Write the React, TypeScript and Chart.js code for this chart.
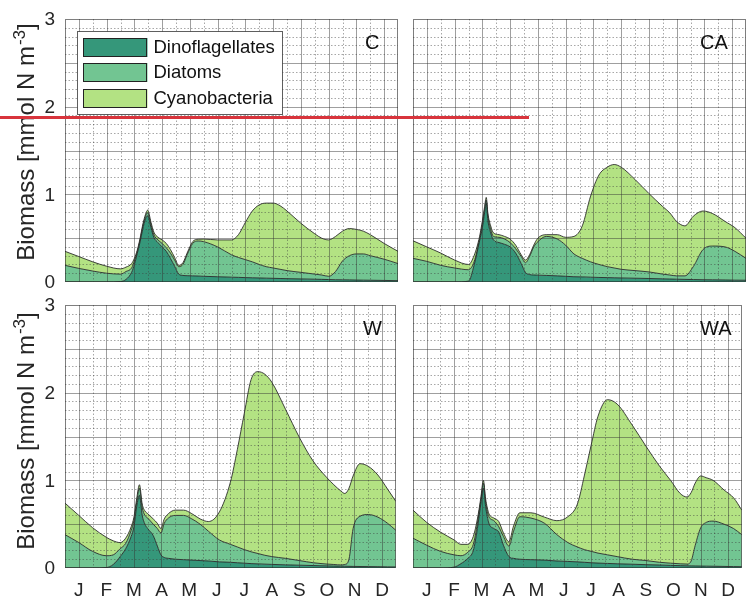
import React, { useEffect, useRef } from 'react';
import { Chart, registerables } from 'chart.js';
Chart.register(...registerables);

const FONT = '"Liberation Sans", Arial, sans-serif';
Chart.defaults.font.family = FONT;

const MONTHS = ['J', 'F', 'M', 'A', 'M', 'J', 'J', 'A', 'S', 'O', 'N', 'D'];
const SERIES = ['Dinoflagellates', 'Diatoms', 'Cyanobacteria'];
const COLORS = ['#35977a', '#72c592', '#b3e283'];
const Y_TICKS = [0, 1, 2, 3];

// Panel C
const C_X = [0, 0.5, 1, 1.5, 2, 2.2, 2.4, 2.5, 2.6, 2.7, 2.8, 2.9, 2.98, 3.1, 3.2, 3.35, 3.5, 3.65, 3.8, 3.95, 4.1, 4.25, 4.4, 4.6, 4.8, 5, 5.5, 6, 6.25, 6.5, 6.75, 7, 7.25, 7.5, 7.75, 8, 8.5, 9, 9.25, 9.5, 9.75, 10, 10.25, 10.5, 10.75, 11, 11.5, 12];
const C_DINO = [0, 0, 0, 0, 0.005, 0.03, 0.11, 0.2, 0.32, 0.45, 0.6, 0.72, 0.755, 0.62, 0.51, 0.45, 0.4, 0.35, 0.27, 0.18, 0.09, 0.075, 0.072, 0.07, 0.068, 0.065, 0.06, 0.055, 0.053, 0.05, 0.048, 0.046, 0.044, 0.042, 0.04, 0.038, 0.035, 0.032, 0.03, 0.028, 0.026, 0.025, 0.024, 0.022, 0.021, 0.02, 0.018, 0.015];
const C_DIAT = [0.19, 0.155, 0.125, 0.1, 0.085, 0.09, 0.05, 0.04, 0.02, 0.02, 0.03, 0.03, 0.035, 0.03, 0.03, 0.03, 0.04, 0.04, 0.06, 0.07, 0.085, 0.125, 0.238, 0.37, 0.4, 0.395, 0.34, 0.255, 0.227, 0.205, 0.182, 0.154, 0.131, 0.118, 0.105, 0.092, 0.075, 0.058, 0.05, 0.037, 0.094, 0.215, 0.276, 0.298, 0.299, 0.28, 0.242, 0.195];
const C_CYAN = [0.16, 0.135, 0.105, 0.08, 0.06, 0.05, 0.05, 0.03, 0.02, 0.02, 0.02, 0.02, 0.03, 0.03, 0.03, 0.03, 0.04, 0.05, 0.04, 0.03, 0.015, 0.02, 0.02, 0.02, 0.02, 0.03, 0.08, 0.17, 0.26, 0.425, 0.58, 0.68, 0.725, 0.74, 0.725, 0.68, 0.56, 0.46, 0.42, 0.415, 0.4, 0.34, 0.31, 0.28, 0.26, 0.24, 0.18, 0.14];

// Panel CA
const CA_X = [0, 0.5, 1, 1.5, 2, 2.2, 2.4, 2.5, 2.58, 2.64, 2.7, 2.8, 2.9, 3.1, 3.3, 3.5, 3.7, 3.9, 4.05, 4.2, 4.35, 4.5, 4.8, 5.2, 5.5, 5.8, 6.1, 6.4, 6.7, 7, 7.25, 7.5, 8, 8.5, 9, 9.25, 9.5, 9.8, 10.1, 10.45, 10.8, 11.25, 11.6, 12];
const CA_DINO = [0, 0, 0, 0, 0.01, 0.19, 0.47, 0.62, 0.79, 0.9, 0.7, 0.56, 0.48, 0.45, 0.43, 0.4, 0.33, 0.21, 0.11, 0.085, 0.08, 0.078, 0.075, 0.07, 0.065, 0.06, 0.058, 0.055, 0.052, 0.05, 0.048, 0.046, 0.043, 0.04, 0.036, 0.034, 0.032, 0.03, 0.028, 0.026, 0.025, 0.023, 0.021, 0.02];
const CA_DIAT = [0.27, 0.235, 0.19, 0.16, 0.13, 0.04, 0.02, 0.04, 0.04, 0.035, 0.05, 0.04, 0.04, 0.06, 0.06, 0.05, 0.05, 0.08, 0.11, 0.205, 0.32, 0.382, 0.445, 0.42, 0.355, 0.26, 0.212, 0.175, 0.148, 0.125, 0.112, 0.099, 0.087, 0.075, 0.054, 0.046, 0.038, 0.04, 0.147, 0.344, 0.385, 0.377, 0.329, 0.25];
const CA_CYAN = [0.2, 0.165, 0.14, 0.09, 0.06, 0.07, 0.03, 0.04, 0.03, 0.03, 0.03, 0.04, 0.04, 0.03, 0.03, 0.04, 0.04, 0.02, 0.03, 0.02, 0.02, 0.04, 0.02, 0.05, 0.09, 0.2, 0.37, 0.75, 1.02, 1.135, 1.18, 1.165, 1.04, 0.895, 0.77, 0.71, 0.62, 0.57, 0.575, 0.44, 0.37, 0.29, 0.27, 0.23];

// Panel W
const W_X = [0, 0.5, 1, 1.5, 1.75, 2, 2.2, 2.4, 2.5, 2.6, 2.7, 2.8, 2.9, 3.0, 3.2, 3.35, 3.48, 3.6, 3.75, 4.0, 4.3, 4.6, 4.9, 5.2, 5.6, 6, 6.25, 6.5, 6.75, 7, 7.25, 7.5, 8, 8.5, 9, 9.5, 9.75, 10, 10.15, 10.3, 10.45, 10.7, 11, 11.35, 11.7, 12];
const W_DINO = [0, 0, 0, 0.005, 0.04, 0.13, 0.22, 0.36, 0.47, 0.7, 0.83, 0.6, 0.5, 0.45, 0.37, 0.25, 0.15, 0.12, 0.11, 0.1, 0.095, 0.09, 0.085, 0.08, 0.07, 0.065, 0.06, 0.055, 0.05, 0.047, 0.044, 0.041, 0.036, 0.032, 0.028, 0.024, 0.022, 0.02, 0.02, 0.019, 0.018, 0.017, 0.016, 0.015, 0.013, 0.012];
const W_DIAT = [0.38, 0.29, 0.19, 0.135, 0.11, 0.09, 0.06, 0.07, 0.07, 0.05, 0.08, 0.09, 0.1, 0.12, 0.13, 0.2, 0.25, 0.39, 0.46, 0.5, 0.505, 0.47, 0.415, 0.34, 0.25, 0.205, 0.18, 0.155, 0.135, 0.118, 0.101, 0.089, 0.074, 0.053, 0.032, 0.021, 0.018, 0.015, 0.02, 0.081, 0.432, 0.573, 0.594, 0.565, 0.497, 0.418];
const W_CYAN = [0.36, 0.31, 0.27, 0.21, 0.16, 0.07, 0.06, 0.04, 0.04, 0.04, 0.04, 0.04, 0.05, 0.05, 0.06, 0.06, 0.05, 0.05, 0.05, 0.06, 0.06, 0.06, 0.06, 0.11, 0.32, 0.71, 1.11, 1.55, 1.965, 2.075, 2.065, 1.99, 1.7, 1.405, 1.16, 0.985, 0.91, 0.845, 0.81, 0.81, 0.6, 0.6, 0.55, 0.48, 0.39, 0.33];

// Panel WA
const WA_X = [0, 0.5, 1, 1.5, 1.75, 2, 2.2, 2.35, 2.47, 2.57, 2.65, 2.77, 2.95, 3.13, 3.3, 3.5, 3.67, 3.9, 4.3, 4.8, 5.25, 5.65, 6, 6.25, 6.5, 6.75, 7.1, 7.45, 8, 8.5, 9, 9.4, 9.75, 10, 10.15, 10.3, 10.5, 10.7, 10.95, 11.35, 11.7, 12];
const WA_DINO = [0, 0, 0, 0.01, 0.05, 0.11, 0.2, 0.45, 0.72, 0.91, 0.7, 0.51, 0.45, 0.41, 0.26, 0.13, 0.11, 0.1, 0.095, 0.09, 0.08, 0.075, 0.07, 0.065, 0.06, 0.056, 0.052, 0.048, 0.043, 0.038, 0.034, 0.03, 0.027, 0.025, 0.024, 0.023, 0.022, 0.021, 0.02, 0.018, 0.016, 0.015];
const WA_DIAT = [0.34, 0.26, 0.19, 0.14, 0.09, 0.07, 0.07, 0.06, 0.04, 0.055, 0.05, 0.075, 0.09, 0.06, 0.1, 0.12, 0.31, 0.485, 0.475, 0.42, 0.3, 0.215, 0.17, 0.145, 0.13, 0.114, 0.098, 0.082, 0.057, 0.047, 0.031, 0.025, 0.021, 0.02, 0.056, 0.237, 0.438, 0.499, 0.515, 0.482, 0.434, 0.365];
const WA_CYAN = [0.32, 0.26, 0.22, 0.17, 0.13, 0.09, 0.09, 0.05, 0.03, 0.035, 0.04, 0.035, 0.03, 0.06, 0.04, 0.05, 0.06, 0.045, 0.06, 0.07, 0.16, 0.295, 0.49, 0.84, 1.21, 1.56, 1.77, 1.74, 1.53, 1.305, 1.095, 0.945, 0.802, 0.765, 0.78, 0.71, 0.59, 0.51, 0.465, 0.39, 0.35, 0.28];

const TEXT = '#262626';

const gridPlugin = {
  id: 'matlabGrid',
  afterDatasetsDraw(chart: any) {
    const { ctx, chartArea: a, scales } = chart;
    const x = scales.x;
    const y = scales.y;
    ctx.save();
    ctx.lineWidth = 1;
    ctx.strokeStyle = 'rgba(60,60,60,0.45)';
    ctx.setLineDash([1.5, 2]);
    for (let k = 1; k < 30; k++) {
      if (k % 5 === 0) continue;
      const py = Math.round(y.getPixelForValue(k / 10)) + 0.5;
      ctx.beginPath();
      ctx.moveTo(a.left, py);
      ctx.lineTo(a.right, py);
      ctx.stroke();
    }
    for (let m = 1; m < 12; m++) {
      const px = Math.round(x.getPixelForValue(m)) + 0.5;
      ctx.beginPath();
      ctx.moveTo(px, a.top);
      ctx.lineTo(px, a.bottom);
      ctx.stroke();
    }
    ctx.setLineDash([]);
    ctx.strokeStyle = 'rgba(50,50,50,0.47)';
    for (let k = 1; k < 6; k++) {
      const py = Math.round(y.getPixelForValue(k / 2)) + 0.5;
      ctx.beginPath();
      ctx.moveTo(a.left, py);
      ctx.lineTo(a.right, py);
      ctx.stroke();
    }
    for (let m = 0; m < 12; m++) {
      const px = Math.round(x.getPixelForValue(m + 0.5)) + 0.5;
      ctx.beginPath();
      ctx.moveTo(px, a.top);
      ctx.lineTo(px, a.bottom);
      ctx.stroke();
    }
    ctx.strokeStyle = 'rgba(40,40,40,0.6)';
    ctx.strokeRect(Math.round(a.left) + 0.5, Math.round(a.top) + 0.5, Math.round(a.right - a.left) - 1, Math.round(a.bottom - a.top) - 1);
    ctx.restore();
  },
};

const yTickPlugin = {
  id: 'yTickLabels',
  afterDraw(chart: any) {
    const { ctx, chartArea: a, scales } = chart;
    const y = scales.y;
    ctx.save();
    ctx.font = `19px ${FONT}`;
    ctx.fillStyle = TEXT;
    ctx.textAlign = 'right';
    ctx.textBaseline = 'middle';
    Y_TICKS.forEach((v) => {
      ctx.fillText(String(v), a.left - 10, y.getPixelForValue(v) + 1);
    });
    ctx.restore();
  },
};

const makeLabelPlugin = (label: string, dx: number) => ({
  id: 'panelLabel',
  afterDraw(chart: any) {
    const { ctx, chartArea: a } = chart;
    ctx.save();
    ctx.font = `20px ${FONT}`;
    ctx.fillStyle = '#111';
    ctx.textAlign = 'left';
    ctx.textBaseline = 'middle';
    ctx.fillText(label, a.left + dx, a.top + 24);
    ctx.restore();
  },
});

const legendPlugin = {
  id: 'boxLegend',
  afterDraw(chart: any) {
    const { ctx, chartArea: a } = chart;
    const bx = Math.round(a.left) + 12.5;
    const by = Math.round(a.top) + 12.5;
    ctx.save();
    ctx.fillStyle = '#fff';
    ctx.fillRect(bx, by, 205, 83);
    ctx.strokeStyle = 'rgba(40,40,40,0.75)';
    ctx.lineWidth = 1;
    ctx.strokeRect(bx, by, 205, 83);
    ctx.font = `18.5px ${FONT}`;
    ctx.textBaseline = 'middle';
    ctx.textAlign = 'left';
    SERIES.forEach((name, i) => {
      const py = Math.round(by + 6 + i * 25.8);
      ctx.fillStyle = COLORS[i];
      ctx.fillRect(bx + 6, py, 64, 19);
      ctx.strokeStyle = '#222';
      ctx.strokeRect(bx + 6, py + 0.5, 63, 18);
      ctx.fillStyle = '#111';
      ctx.fillText(name, bx + 76, py + 10);
    });
    ctx.restore();
  },
};

type PanelProps = {
  xs: number[];
  values: number[][];
  label: string;
  labelDx: number;
  left: number;
  top: number;
  width: number;
  height: number;
  pad: { left: number; right: number; top: number; bottom: number };
  showY: boolean;
  showX: boolean;
  legend?: boolean;
};

function Panel(p: PanelProps) {
  const ref = useRef<HTMLCanvasElement>(null);
  useEffect(() => {
    const canvas = ref.current;
    if (!canvas) return;
    const plugins: any[] = [gridPlugin, makeLabelPlugin(p.label, p.labelDx)];
    if (p.showY) plugins.push(yTickPlugin);
    if (p.legend) plugins.push(legendPlugin);
    const chart = new Chart(canvas, {
      type: 'line',
      data: {
        datasets: SERIES.map((name, i) => ({
          label: name,
          data: p.xs.map((x, j) => ({ x, y: p.values[i][j] })),
          backgroundColor: COLORS[i],
          borderColor: 'rgba(35,35,35,0.85)',
          borderWidth: 1,
          pointRadius: 0,
          fill: i === 0 ? 'origin' : '-1',
          cubicInterpolationMode: 'monotone',
        })),
      } as any,
      options: {
        animation: false,
        responsive: false,
        maintainAspectRatio: false,
        events: [],
        layout: { padding: p.pad },
        plugins: { legend: { display: false }, tooltip: { enabled: false } },
        scales: {
          x: {
            type: 'linear',
            min: 0,
            max: 12,
            display: p.showX,
            grid: { display: false, drawTicks: false },
            border: { display: false },
            afterBuildTicks: (s: any) => {
              s.ticks = MONTHS.map((_, i) => ({ value: i + 0.5 }));
            },
            afterFit: (s: any) => {
              if (p.showX) s.height = 33;
            },
            ticks: {
              autoSkip: false,
              maxRotation: 0,
              minRotation: 0,
              padding: 11,
              color: TEXT,
              font: { size: 19 },
              callback: (v: any) => MONTHS[Math.floor(Number(v))],
            },
          },
          y: {
            type: 'linear',
            stacked: true,
            min: 0,
            max: 3,
            display: false,
          },
        },
      } as any,
      plugins,
    });
    return () => chart.destroy();
  }, []);
  return (
    <canvas
      ref={ref}
      width={p.width}
      height={p.height}
      style={{ position: 'absolute', left: p.left, top: p.top, width: p.width, height: p.height }}
    />
  );
}

function YLabel({ cx, cy }: { cx: number; cy: number }) {
  return (
    <div
      style={{
        position: 'absolute',
        left: cx,
        top: cy,
        transform: 'translate(-50%, -50%) rotate(-90deg)',
        whiteSpace: 'nowrap',
        fontFamily: FONT,
        fontSize: 24,
        color: TEXT,
        lineHeight: '24px',
      }}
    >
      Biomass [mmol N m<sup style={{ fontSize: 17, verticalAlign: 'top', position: 'relative', top: -6, marginLeft: 1 }}>-3</sup>]
    </div>
  );
}

export default function App() {
  return (
    <div
      style={{
        position: 'fixed',
        left: 0,
        top: 0,
        width: 746,
        height: 601,
        background: '#fff',
        overflow: 'hidden',
      }}
    >
      <Panel xs={C_X} values={[C_DINO, C_DIAT, C_CYAN]} label="C" labelDx={300} left={0} top={0} width={400} height={290}
        pad={{ left: 65, right: 2, top: 19, bottom: 8 }} showY={true} showX={false} legend={true} />
      <Panel xs={CA_X} values={[CA_DINO, CA_DIAT, CA_CYAN]} label="CA" labelDx={287} left={400} top={0} width={346} height={290}
        pad={{ left: 13, right: 0, top: 19, bottom: 8 }} showY={false} showX={false} />
      <Panel xs={W_X} values={[W_DINO, W_DIAT, W_CYAN]} label="W" labelDx={298} left={0} top={290} width={400} height={311}
        pad={{ left: 65, right: 2, top: 15, bottom: 0 }} showY={true} showX={true} />
      <Panel xs={WA_X} values={[WA_DINO, WA_DIAT, WA_CYAN]} label="WA" labelDx={287} left={400} top={290} width={346} height={311}
        pad={{ left: 13, right: 0, top: 15, bottom: 0 }} showY={false} showX={true} />
      <YLabel cx={26} cy={142} />
      <YLabel cx={26} cy={431} />
      <div style={{ position: 'absolute', left: 0, top: 115.5, width: 529, height: 3.5, background: '#d8343c' }} />
    </div>
  );
}
